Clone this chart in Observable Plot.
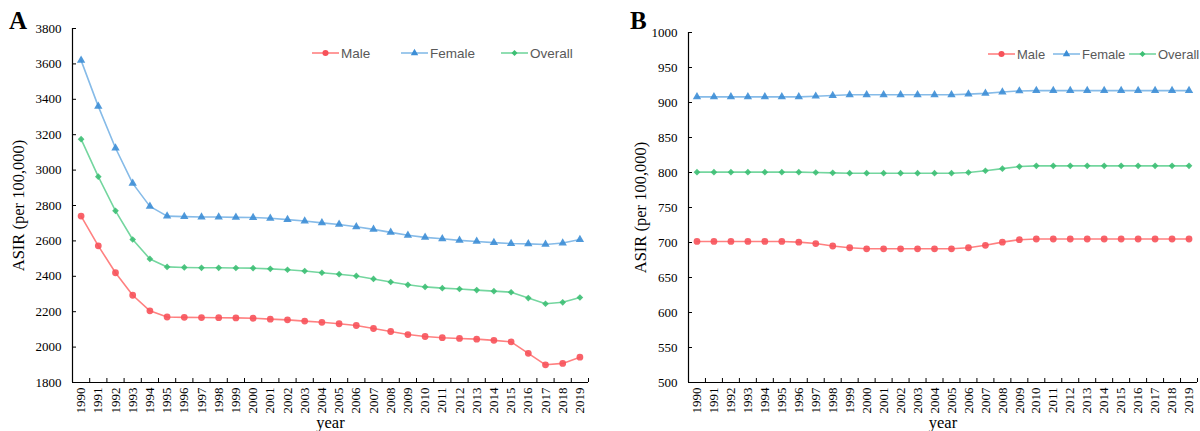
<!DOCTYPE html>
<html>
<head>
<meta charset="utf-8">
<script src="https://cdn.jsdelivr.net/npm/d3@7"></script>
<script src="https://cdn.jsdelivr.net/npm/@observablehq/plot@0.6"></script>
<style>
  html, body { margin: 0; padding: 0; background: #fff; }
  #wrap { position: relative; width: 1200px; height: 431px; display: flex; }
  .panel { width: 600px; height: 431px; }
  .letter { position: absolute; font-family: "Liberation Serif", serif; font-weight: bold; font-size: 25px; color: #000; }
  #legend { position: absolute; left: 0; top: 0; pointer-events: none; }
</style>
</head>
<body>
<div id="wrap">
  <div class="panel" id="pA"></div>
  <div class="panel" id="pB"></div>
  <div class="letter" style="left:9px; top:7px;">A</div>
  <div class="letter" style="left:630px; top:7px;">B</div>
  <svg id="legend" width="1200" height="431"></svg>
</div>
<script>
const years = [1990,1991,1992,1993,1994,1995,1996,1997,1998,1999,2000,2001,2002,2003,2004,2005,2006,2007,2008,2009,2010,2011,2012,2013,2014,2015,2016,2017,2018,2019];
const seriesNames = ["Male", "Female", "Overall"];

// Panel A values
const maleA = [2740,2572,2420,2293,2205,2170,2168,2167,2166,2165,2163,2158,2154,2147,2140,2132,2122,2105,2088,2071,2060,2053,2049,2045,2038,2030,1965,1900,1908,1943];
const femaleA = [3620,3360,3125,2925,2795,2740,2737,2735,2735,2733,2732,2728,2720,2712,2702,2693,2680,2665,2648,2632,2620,2612,2603,2597,2590,2585,2583,2580,2588,2608];
const overallA = [3175,2963,2770,2608,2498,2453,2450,2448,2448,2447,2446,2442,2437,2430,2420,2412,2402,2385,2368,2352,2340,2333,2328,2322,2316,2310,2277,2245,2253,2280];

// Panel B values
const maleB = [701.5,701.5,701.5,701.5,701.5,701.5,700.5,698.5,695,692.5,691,691,691,691,691,691,692.5,696,700.5,704,705,705,705,705,705,705,705,705,705,705];
const femaleB = [908,908,908,908,908,908,908,909,910,911,911,911,911,911,911,911,912,913,915,916.5,917,917,917,917,917,917,917,917,917,917];
const overallB = [800.5,800.5,800.5,800.5,800.5,800.5,800.5,800,799.5,799,799,799,799,799,799,799,800,802.5,805.5,808.5,809.5,809.5,809.5,809.5,809.5,809.5,809.5,809.5,809.5,809.5];

const ticksA = [1800,2000,2200,2400,2600,2800,3000,3200,3400,3600,3800];
const ticksB = [500,550,600,650,700,750,800,850,900,950,1000];

const yLabel = "ASIR (per 100,000)";
const xLabel = "year";

const styles = {
  Male:    {line: "#ff8080", fill: "#f7525a", symbol: "circle",   r: 3.4},
  Female:  {line: "#86bbe8", fill: "#3d8ed6", symbol: "triangle", r: 3.1},
  Overall: {line: "#74d69f", fill: "#3dbf74", symbol: "diamond2", r: 3.0}
};

function toRows(vals) {
  const rows = [];
  seriesNames.forEach((s, k) => vals[k].forEach((v, i) => rows.push({series: s, year: years[i], value: v})));
  return rows;
}

function panel(el, vals, yTicks, m, labelDx) {
  const rows = toRows(vals);
  const bounds = years.map(y => y - 0.5).concat([years[years.length - 1] + 0.5]);
  const x0 = bounds[0], x1 = bounds[bounds.length - 1];
  const yMin = yTicks[0], yMax = yTicks[yTicks.length - 1];
  const marks = [
    Plot.axisY(yTicks, {tickSize: 4, dx: 4, tickPadding: 11, fontSize: 13, label: null, tickFormat: d => String(d)}),
    Plot.axisX(bounds, {tickSize: 4, dy: -4, label: null, tickFormat: () => ""}),
    Plot.axisX(years, {tickSize: 0, tickRotate: -90, tickPadding: 5, fontSize: 13, label: null, tickFormat: d => String(d)}),
    Plot.ruleX([x0], {y1: yMin, y2: yMax, stroke: "#000", strokeWidth: 1.2}),
    Plot.ruleY([yMin], {x1: x0, x2: x1, stroke: "#000", strokeWidth: 1.2}),
    Plot.text([yLabel], {frameAnchor: "left", textAnchor: "middle", rotate: -90, dx: labelDx, fontSize: 16.5, fill: "#000"}),
    Plot.text([xLabel], {frameAnchor: "bottom", lineAnchor: "bottom", dy: 45, fontSize: 16.5, fill: "#000"})
  ];
  seriesNames.forEach(s => {
    const st = styles[s];
    const d = rows.filter(r => r.series === s);
    marks.push(Plot.line(d, {x: "year", y: "value", stroke: st.line, strokeWidth: 1.6}));
  });
  seriesNames.forEach(s => {
    const st = styles[s];
    const d = rows.filter(r => r.series === s);
    marks.push(Plot.dot(d, {x: "year", y: "value", symbol: () => st.symbol, r: st.r, fill: st.fill, fillOpacity: 0.9, stroke: "none"}));
  });
  const chart = Plot.plot({
    width: 600, height: 431,
    marginLeft: m.l, marginRight: m.r, marginTop: m.t, marginBottom: m.b,
    style: {fontFamily: "'Liberation Serif', 'Times New Roman', serif", fontSize: "13px", color: "#000", background: "transparent", overflow: "visible"},
    x: {domain: [x0, x1], axis: null},
    y: {domain: [yMin, yMax], axis: null},
    symbol: {type: "identity"},
    marks
  });
  el.appendChild(chart);
}

panel(document.getElementById("pA"), [maleA, femaleA, overallA], ticksA, {l: 72, r: 12, t: 28, b: 49}, -54);
panel(document.getElementById("pB"), [maleB, femaleB, overallB], ticksB, {l: 88, r: 3, t: 32, b: 49}, -48);

// Legends
const legendSpecs = [
  {y: 53, fs: 13.5, items: [{x: 312, w: 27}, {x: 401, w: 27}, {x: 501, w: 27}]},
  {y: 54, fs: 13, items: [{x: 988, w: 27}, {x: 1053, w: 27}, {x: 1129, w: 27}]}
];
const svg = d3.select("#legend");
legendSpecs.forEach(spec => {
  spec.items.forEach((it, k) => {
    const s = seriesNames[k], st = styles[s];
    const g = svg.append("g").attr("transform", `translate(${it.x},${spec.y})`);
    g.append("line").attr("x1", 0).attr("x2", it.w).attr("y1", 0).attr("y2", 0).attr("stroke", st.line).attr("stroke-width", 1.6);
    const sym = {circle: d3.symbolCircle, triangle: d3.symbolTriangle, diamond2: d3.symbolDiamond2}[st.symbol];
    g.append("path").attr("d", d3.symbol(sym, Math.PI * st.r * st.r * 0.8)()).attr("transform", `translate(${it.w/2},0)`).attr("fill", st.fill);
    g.append("text").attr("x", it.w + 2).attr("y", 0).attr("dy", "0.35em").attr("font-family", "'Liberation Sans', Arial, sans-serif").attr("font-size", spec.fs).attr("fill", "#595959").text(s);
  });
});
</script>
</body>
</html>
